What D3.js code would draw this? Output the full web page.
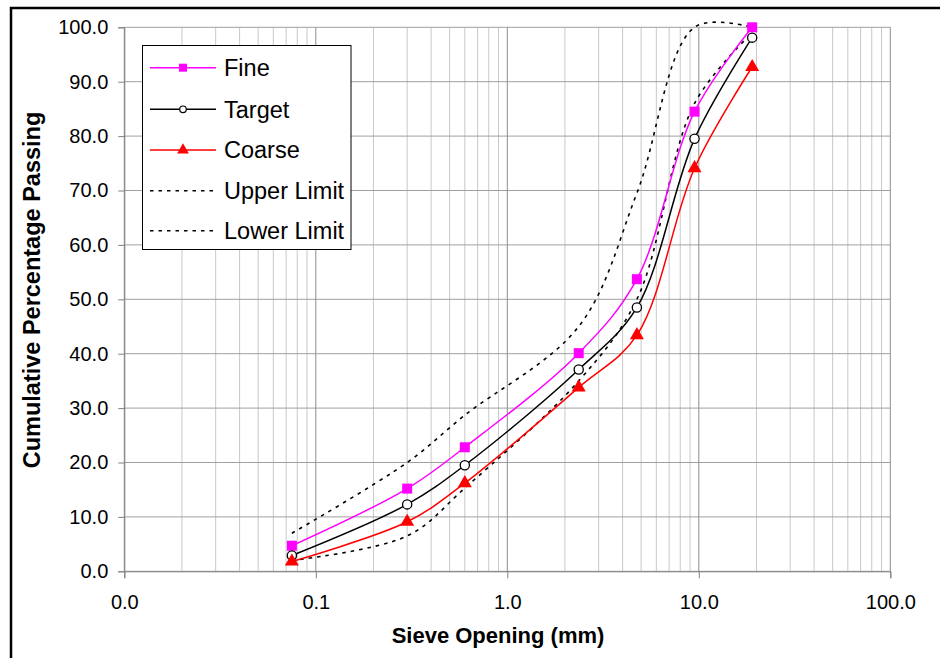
<!DOCTYPE html>
<html>
<head>
<meta charset="utf-8">
<script src="https://cdn.jsdelivr.net/npm/d3@7"></script>
<style>
  body { margin: 0; background: #fff; }
  svg { display: block; font-family: "Liberation Sans", Arial, sans-serif; }
</style>
</head>
<body>
<div id="chart"></div>
<script>
// sieve sizes (mm) and % passing
const sieves = [0.075, 0.3, 0.6, 2.36, 4.75, 9.5, 19.0];
const fine = [4.7, 15.2, 22.8, 40.1, 53.7, 84.5, 100.0];
const target = [2.9, 12.3, 19.5, 37.1, 48.5, 79.5, 98.1];
const coarse = [1.8, 9.1, 16.2, 33.8, 43.4, 74.1, 92.7];
const upperLimit = [7.0, 20.0, 28.7, 45.0, 69.5, 100.0, 100.0];
const lowerLimit = [2.0, 6.5, 15.3, 35.0, 50.0, 86.0, 99.0];

const xTicks = [0.01, 0.1, 1, 10, 100];
const xTickLabels = ["0.0", "0.1", "1.0", "10.0", "100.0"];
const yTicks = [0, 10, 20, 30, 40, 50, 60, 70, 80, 90, 100];

const seriesNames = ["Fine", "Target", "Coarse", "Upper Limit", "Lower Limit"];

const width = 940, height = 658;
const pLeft = 124.3, pRight = 890.3, pTop = 27.3, pBottom = 571.3;

const svg = d3.select("#chart").append("svg")
    .attr("width", width)
    .attr("height", height);

const x = d3.scaleLog().domain([0.01, 100]).range([pLeft, pRight]);
const y = d3.scaleLinear().domain([0, 100]).range([pBottom, pTop]);

// outer frame (cut off at right and bottom like the original)
svg.append("rect")
    .attr("x", 11).attr("y", 8)
    .attr("width", 960).attr("height", 700)
    .attr("fill", "none").attr("stroke", "#000").attr("stroke-width", 2.5);

// grid
const minor = x.ticks().filter(d => Math.abs(Math.log10(d) - Math.round(Math.log10(d))) > 1e-6);
svg.append("g").selectAll("line").data(minor).join("line")
    .attr("x1", d => x(d)).attr("x2", d => x(d))
    .attr("y1", pTop).attr("y2", pBottom)
    .attr("stroke", "#c8c8c8").attr("stroke-width", 1);

svg.append("g").selectAll("line").data(yTicks).join("line")
    .attr("x1", pLeft).attr("x2", pRight)
    .attr("y1", d => y(d)).attr("y2", d => y(d))
    .attr("stroke", "#a0a0a0").attr("stroke-width", 1);

svg.append("g").selectAll("line").data(xTicks).join("line")
    .attr("x1", d => x(d)).attr("x2", d => x(d))
    .attr("y1", pTop).attr("y2", pBottom)
    .attr("stroke", "#8c8c8c").attr("stroke-width", 1);

// axes
const xAxis = svg.append("g")
    .attr("transform", `translate(0,${pBottom})`)
    .call(d3.axisBottom(x).tickValues(xTicks).tickSize(7).tickPadding(17)
        .tickFormat((d, i) => xTickLabels[i]));
const yAxis = svg.append("g")
    .attr("transform", `translate(${pLeft},0)`)
    .call(d3.axisLeft(y).tickValues(yTicks).tickSize(6).tickPadding(10)
        .tickFormat(d3.format(".1f")));

[xAxis, yAxis].forEach(a => {
  a.select(".domain").attr("stroke", "#808080");
  a.selectAll(".tick line").attr("stroke", "#808080");
  a.selectAll(".tick text")
      .attr("fill", "#000")
      .style("font-size", "20px")
      .style("font-family", "'Liberation Sans', Arial, sans-serif");
});

// axis titles
svg.append("text")
    .attr("x", 498).attr("y", 643)
    .attr("text-anchor", "middle")
    .style("font-size", "22px").style("font-weight", "bold")
    .text("Sieve Opening (mm)");

svg.append("text")
    .attr("transform", "translate(40,290) rotate(-90)")
    .attr("text-anchor", "middle")
    .style("font-size", "23.5px").style("font-weight", "bold")
    .text("Cumulative Percentage Passing");

// lines
const line = d3.line()
    .x(d => x(d[0]))
    .y(d => y(d[1]))
    .curve(d3.curveCatmullRom.alpha(0.5));

const pts = vals => sieves.map((s, i) => [s, vals[i]]);

const dash = "3.5,5";

svg.append("path").datum(pts(upperLimit)).attr("d", line)
    .attr("fill", "none").attr("stroke", "#000").attr("stroke-width", 1.6)
    .attr("stroke-dasharray", dash);
svg.append("path").datum(pts(lowerLimit)).attr("d", line)
    .attr("fill", "none").attr("stroke", "#000").attr("stroke-width", 1.6)
    .attr("stroke-dasharray", dash);

svg.append("path").datum(pts(fine)).attr("d", line)
    .attr("fill", "none").attr("stroke", "#ff00ff").attr("stroke-width", 1.5);
svg.append("path").datum(pts(target)).attr("d", line)
    .attr("fill", "none").attr("stroke", "#000").attr("stroke-width", 1.5);
svg.append("path").datum(pts(coarse)).attr("d", line)
    .attr("fill", "none").attr("stroke", "#ff0000").attr("stroke-width", 1.5);

// markers
const square = d3.symbol().type(d3.symbolSquare).size(100);
const tri = d3.symbol().type(d3.symbolTriangle).size(85);

svg.append("g").selectAll("path").data(pts(fine)).join("path")
    .attr("transform", d => `translate(${x(d[0])},${y(d[1])})`)
    .attr("d", square).attr("fill", "#ff00ff");

svg.append("g").selectAll("circle").data(pts(target)).join("circle")
    .attr("cx", d => x(d[0])).attr("cy", d => y(d[1]))
    .attr("r", 4.6)
    .attr("fill", "#fff").attr("stroke", "#000").attr("stroke-width", 1.3);

svg.append("g").selectAll("path").data(pts(coarse)).join("path")
    .attr("transform", d => `translate(${x(d[0])},${y(d[1])})`)
    .attr("d", tri).attr("fill", "#ff0000");

// legend
const lg = svg.append("g");
lg.append("rect")
    .attr("x", 142.5).attr("y", 45.5)
    .attr("width", 208.5).attr("height", 204)
    .attr("fill", "#fff").attr("stroke", "#000").attr("stroke-width", 1);

const legendY = [67.7, 109.3, 150, 190.7, 230.7];
const legendColor = ["#ff00ff", "#000", "#ff0000", "#000", "#000"];

seriesNames.forEach((name, i) => {
  const yy = legendY[i];
  const l = lg.append("line")
      .attr("x1", 150).attr("x2", 216)
      .attr("y1", yy).attr("y2", yy)
      .attr("stroke", legendColor[i]).attr("stroke-width", i < 3 ? 1.5 : 1.6);
  if (i >= 3) l.attr("stroke-dasharray", dash);
  if (i === 0) {
    lg.append("path").attr("transform", `translate(183,${yy})`)
        .attr("d", d3.symbol().type(d3.symbolSquare).size(64)).attr("fill", "#ff00ff");
  } else if (i === 1) {
    lg.append("circle").attr("cx", 183).attr("cy", yy).attr("r", 3.3)
        .attr("fill", "#fff").attr("stroke", "#000").attr("stroke-width", 1.2);
  } else if (i === 2) {
    lg.append("path").attr("transform", `translate(183,${yy})`)
        .attr("d", d3.symbol().type(d3.symbolTriangle).size(60)).attr("fill", "#ff0000");
  }
  lg.append("text")
      .attr("x", 224).attr("y", yy).attr("dy", "0.35em")
      .style("font-size", "23.5px")
      .text(name);
});
</script>
</body>
</html>
